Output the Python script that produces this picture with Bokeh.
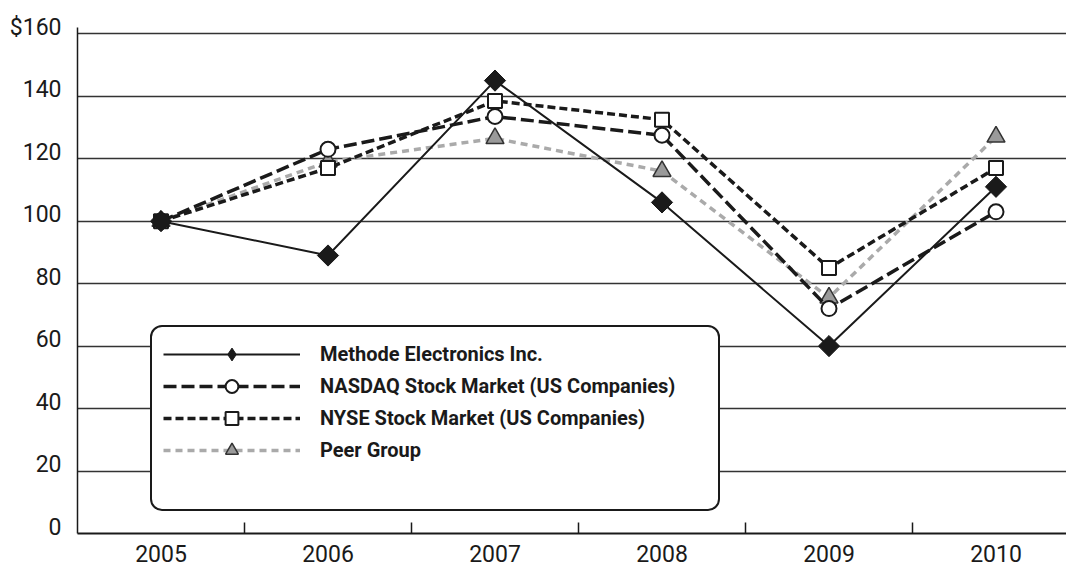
from bokeh.plotting import figure
from bokeh.models import Range1d, FixedTicker, Legend, LegendItem
from bokeh.embed import file_html
from bokeh.resources import INLINE

years = [2005, 2006, 2007, 2008, 2009, 2010]
methode = [100, 89, 145, 106, 60, 111]
nasdaq = [100, 123, 133.5, 127.5, 72, 103]
nyse = [100, 117, 138.5, 132.5, 85, 117]
peer = [100, 119, 126.5, 116, 75.5, 127]
series_names = ["Methode Electronics Inc.", "NASDAQ Stock Market (US Companies)",
                "NYSE Stock Market (US Companies)", "Peer Group"]
y_ticks = [0, 20, 40, 60, 80, 100, 120, 140, 160]
y_labels = ["0", "20", "40", "60", "80", "100", "120", "140", "$160"]

FONT = "Roboto"
INK = "#1a1a1a"
LABEL_LIFT = 2  # labels sit slightly above their gridlines

p = figure(frame_width=989, frame_height=506,
           x_range=Range1d(2004.5, 2004.5 + 989 / 167.0), y_range=Range1d(0, 162),
           output_backend="svg", toolbar_location=None,
           min_border_left=77, min_border_right=0, min_border_top=27, min_border_bottom=33)
p.outline_line_color = None
p.background_fill_color = "white"

# axes
p.xaxis.ticker = FixedTicker(ticks=years, minor_ticks=[y + 0.5 for y in years[:-1]])
p.xaxis.major_tick_in = 0
p.xaxis.major_tick_out = 0
p.xaxis.minor_tick_in = 11
p.xaxis.minor_tick_out = 0
p.xaxis.minor_tick_line_color = INK
p.xaxis.minor_tick_line_width = 1.5
p.xaxis.axis_line_color = INK
p.xaxis.axis_line_width = 2
p.xaxis.major_label_text_font = FONT
p.xaxis.major_label_text_font_size = "23px"
p.xaxis.major_label_text_color = INK
p.xaxis.major_label_standoff = 11

p.yaxis.ticker = FixedTicker(ticks=[t + LABEL_LIFT for t in y_ticks])
p.yaxis.major_label_overrides = {t + LABEL_LIFT: l for t, l in zip(y_ticks, y_labels)}
p.yaxis.major_tick_in = 0
p.yaxis.major_tick_out = 0
p.yaxis.minor_tick_line_color = None
p.yaxis.axis_line_color = INK
p.yaxis.axis_line_width = 1.5
p.yaxis.major_label_text_font = FONT
p.yaxis.major_label_text_font_size = "23px"
p.yaxis.major_label_text_color = INK
p.yaxis.major_label_standoff = 16

p.xgrid.visible = False
p.ygrid.ticker = FixedTicker(ticks=y_ticks)
p.ygrid.grid_line_color = "#333333"
p.ygrid.grid_line_width = 1.3

# series
pl = p.line(years, peer, line_color="#aaaaaa", line_width=3.5, line_dash="7 5")
pm = p.scatter(years, peer, marker="triangle", size=18, fill_color="#9a9a9a",
               line_color="#333333", line_width=1.5)

yl = p.line(years, nyse, line_color=INK, line_width=3.5, line_dash="8 4")
ym = p.scatter(years, nyse, marker="square", size=14, fill_color="white",
               line_color=INK, line_width=2)

nl = p.line(years, nasdaq, line_color=INK, line_width=3.5, line_dash="13 5")
nm = p.scatter(years, nasdaq, marker="circle", size=15, fill_color="white",
               line_color=INK, line_width=2)

ml = p.line(years, methode, line_color=INK, line_width=2)
mm = p.scatter(years, methode, marker="square", angle=0.785398, size=15,
               fill_color=INK, line_color=INK, line_width=1)

# legend-only glyphs (not drawn in the plot area)
nan = float("nan")
md = p.scatter(x=[nan], y=[nan], marker="diamond", fill_color=INK, line_color=INK, line_width=1)
blank = p.scatter(x=[nan], y=[nan], marker="circle", fill_alpha=0, line_alpha=0)

legend = Legend(items=[
    LegendItem(label=series_names[0], renderers=[ml, md]),
    LegendItem(label=series_names[1], renderers=[nl, nm]),
    LegendItem(label=series_names[2], renderers=[yl, ym]),
    LegendItem(label=series_names[3], renderers=[pl, pm]),
    LegendItem(label=" ", renderers=[blank]),
],
    location=(73, 22), orientation="vertical",
    glyph_width=137, glyph_height=32, label_height=32, spacing=0, padding=11,
    label_standoff=20, label_width=387, margin=0,
    label_text_font=FONT, label_text_font_style="bold", label_text_font_size="20px",
    label_text_color=INK, border_line_color=INK, border_line_width=2.5, border_line_alpha=1,
    border_radius=12, background_fill_color="white", background_fill_alpha=1)
p.add_layout(legend)

open("out.html", "w").write(file_html(p, INLINE))
